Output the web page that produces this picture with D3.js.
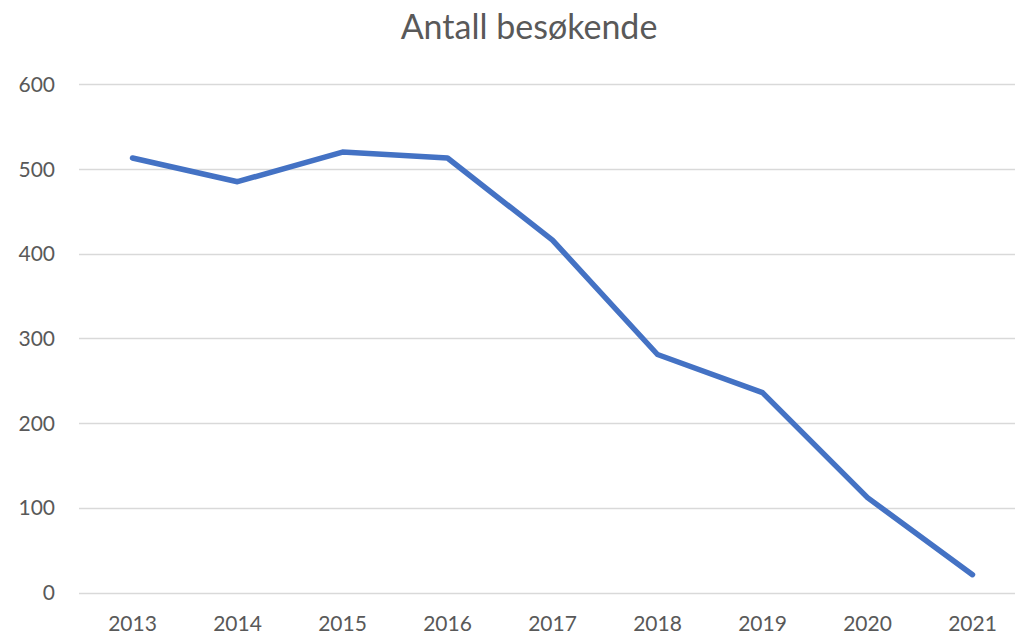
<!DOCTYPE html>
<html>
<head>
<meta charset="utf-8">
<script src="https://cdn.jsdelivr.net/npm/d3@7"></script>
<style>
  body { margin: 0; background: #fff; overflow: hidden; }
  svg text { font-family: Lato, "Open Sans", sans-serif; fill: #595959; }
</style>
</head>
<body>
<svg id="chart"></svg>
<script>
var years = ["2013", "2014", "2015", "2016", "2017", "2018", "2019", "2020", "2021"];
var visitors = [513, 485, 520, 513, 416, 281, 236, 112, 21];
var yTicks = [0, 100, 200, 300, 400, 500, 600];
var title = "Antall besøkende";

var WIDTH = 1015, HEIGHT = 634;
var svg = d3.select("#chart").attr("width", WIDTH).attr("height", HEIGHT);

var x = d3.scaleBand().domain(years).range([80, 1025]);
var y = d3.scaleLinear().domain([0, 600]).range([592.5, 84.3]);

// gridlines
svg.append("g").selectAll("line")
    .data(yTicks)
    .enter()
    .append("line")
    .attr("x1", 79).attr("x2", 1025)
    .attr("y1", function(d){ return Math.round(y(d)) + 0.5; })
    .attr("y2", function(d){ return Math.round(y(d)) + 0.5; })
    .attr("stroke", "#d9d9d9")
    .attr("stroke-width", 1.3);

// y axis labels
svg.append("g").selectAll("text")
    .data(yTicks)
    .enter()
    .append("text")
    .attr("x", 55)
    .attr("y", function(d){ return y(d); })
    .attr("dy", "0.36em")
    .attr("text-anchor", "end")
    .style("font-size", "21px")
    .text(function(d){ return d; });

// x axis labels (bottom edge trims them a little, like the original)
svg.append("g").selectAll("text")
    .data(years)
    .enter()
    .append("text")
    .attr("x", function(d){ return x(d) + x.bandwidth() / 2; })
    .attr("y", 631)
    .attr("text-anchor", "middle")
    .style("font-size", "21px")
    .text(function(d){ return d; });

// line
var line = d3.line()
    .x(function(d, i){ return x(years[i]) + x.bandwidth() / 2; })
    .y(function(d){ return y(d); });

svg.append("path")
    .datum(visitors)
    .attr("d", line)
    .attr("fill", "none")
    .attr("stroke", "#4472C4")
    .attr("stroke-width", 5.5)
    .attr("stroke-linejoin", "round")
    .attr("stroke-linecap", "round");

// title
svg.append("text")
    .attr("x", 529)
    .attr("y", 39)
    .attr("text-anchor", "middle")
    .style("font-size", "34px")
    .text(title);
</script>
</body>
</html>
